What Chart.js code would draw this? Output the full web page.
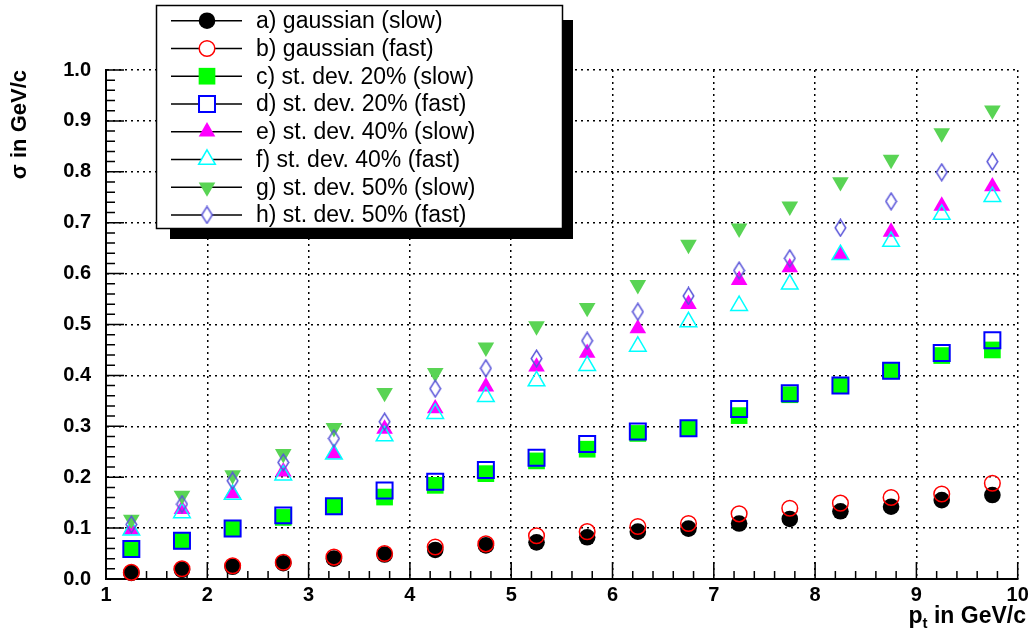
<!DOCTYPE html>
<html>
<head>
<meta charset="utf-8">
<script src="https://cdn.jsdelivr.net/npm/chart.js@4/dist/chart.umd.min.js"></script>
<style>
  html, body { margin: 0; padding: 0; background: #fff; }
  #wrap { width: 1031px; height: 635px; }
</style>
</head>
<body>
<div id="wrap"><canvas id="myChart" width="1031" height="635"></canvas></div>
<script>
// --- DATA ---
const pt = [1.25, 1.75, 2.25, 2.75, 3.25, 3.75, 4.25, 4.75, 5.25, 5.75, 6.25, 6.75, 7.25, 7.75, 8.25, 8.75, 9.25, 9.75];

const gaussSlow = [0.012, 0.018, 0.024, 0.031, 0.040, 0.048, 0.057, 0.066, 0.072, 0.082, 0.093, 0.099, 0.109, 0.118, 0.133, 0.142, 0.155, 0.165];
const gaussFast = [0.013, 0.020, 0.026, 0.033, 0.043, 0.050, 0.063, 0.069, 0.085, 0.093, 0.103, 0.109, 0.128, 0.139, 0.149, 0.160, 0.167, 0.188];
const sd20Slow  = [0.059, 0.075, 0.099, 0.121, 0.142, 0.161, 0.184, 0.207, 0.232, 0.255, 0.286, 0.296, 0.321, 0.362, 0.380, 0.409, 0.439, 0.450];
const sd20Fast  = [0.059, 0.075, 0.099, 0.125, 0.143, 0.174, 0.191, 0.214, 0.238, 0.265, 0.290, 0.296, 0.334, 0.365, 0.380, 0.409, 0.444, 0.469];
const sd40Slow  = [0.097, 0.137, 0.168, 0.211, 0.246, 0.295, 0.335, 0.378, 0.417, 0.444, 0.492, 0.540, 0.587, 0.612, 0.636, 0.682, 0.733, 0.771];
const sd40Fast  = [0.096, 0.130, 0.166, 0.204, 0.245, 0.281, 0.325, 0.358, 0.389, 0.419, 0.457, 0.505, 0.537, 0.579, 0.637, 0.663, 0.716, 0.751];
const sd50Slow  = [0.117, 0.164, 0.204, 0.246, 0.297, 0.366, 0.405, 0.455, 0.497, 0.533, 0.578, 0.657, 0.689, 0.732, 0.780, 0.824, 0.876, 0.921];
const sd50Fast  = [0.107, 0.147, 0.193, 0.229, 0.276, 0.309, 0.374, 0.414, 0.433, 0.468, 0.525, 0.556, 0.606, 0.630, 0.690, 0.742, 0.799, 0.820];

const seriesLabels = [
    'a) gaussian (slow)', 'b) gaussian (fast)',
    'c) st. dev. 20% (slow)', 'd) st. dev. 20% (fast)',
    'e) st. dev. 40% (slow)', 'f) st. dev. 40% (fast)',
    'g) st. dev. 50% (slow)', 'h) st. dev. 50% (fast)'
];

const xTicks = [1, 2, 3, 4, 5, 6, 7, 8, 9, 10];
const yTicks = [0.0, 0.1, 0.2, 0.3, 0.4, 0.5, 0.6, 0.7, 0.8, 0.9, 1.0];

// --- MARKERS (ROOT look) ---
function diamond(color, fill) {
    const c = document.createElement('canvas');
    c.width = 13; c.height = 19;
    const g = c.getContext('2d');
    g.beginPath();
    g.moveTo(6.5, 1.2); g.lineTo(11.8, 9.5); g.lineTo(6.5, 17.8); g.lineTo(1.2, 9.5);
    g.closePath();
    if (fill) { g.fillStyle = fill; g.fill(); }
    g.strokeStyle = color; g.lineWidth = 1.5; g.stroke();
    return c;
}

const NONE = 'rgba(0,0,0,0)';
const series = [gaussSlow, gaussFast, sd20Slow, sd20Fast, sd40Slow, sd40Fast, sd50Slow, sd50Fast];
const styles = [
    { style: 'circle',   r: 8.3,  rot: 0,   fill: '#000000', stroke: '#000000', bw: 0 },
    { style: 'circle',   r: 7.8,  rot: 0,   fill: NONE,      stroke: '#ff0000', bw: 1.5 },
    { style: 'rect',     r: 11.8, rot: 0,   fill: '#00ff00', stroke: '#00ff00', bw: 0 },
    { style: 'rect',     r: 11.3, rot: 0,   fill: NONE,      stroke: '#0000ff', bw: 2 },
    { style: 'triangle', r: 9.6,  rot: 0,   fill: '#ff00ff', stroke: '#ff00ff', bw: 0 },
    { style: 'triangle', r: 9.6,  rot: 0,   fill: NONE,      stroke: '#00ffff', bw: 1.5 },
    { style: 'triangle', r: 9.6,  rot: 180, fill: '#59d454', stroke: '#59d454', bw: 0 },
    { style: diamond('#5954d9'), legend: diamond('#5954d9', '#ffffff'), r: 9, rot: 0, fill: NONE, stroke: '#5954d9', bw: 1.5 }
];

const FONT = '"Liberation Sans", Arial, Helvetica, sans-serif';

// --- DECORATIONS: inside ticks, x title, legend ---
const rootDecor = {
    id: 'rootDecor',
    beforeDatasetsDraw(chart) {
        const ctx = chart.ctx;
        const xs = chart.scales.x, ys = chart.scales.y;
        const a = chart.chartArea;
        ctx.save();
        ctx.strokeStyle = '#000';
        ctx.lineWidth = 1.5;
        ctx.beginPath();
        for (let i = 0; i < xTicks.length; i++) {
            const px = xs.getPixelForValue(xTicks[i]);
            ctx.moveTo(px, a.bottom); ctx.lineTo(px, a.bottom - 17);
            if (i < xTicks.length - 1) {
                const step = (xTicks[i + 1] - xTicks[i]) / 5;
                for (let k = 1; k < 5; k++) {
                    const mx = xs.getPixelForValue(xTicks[i] + k * step);
                    ctx.moveTo(mx, a.bottom); ctx.lineTo(mx, a.bottom - 8);
                }
            }
        }
        for (let i = 0; i < yTicks.length; i++) {
            const py = ys.getPixelForValue(yTicks[i]);
            ctx.moveTo(a.left, py); ctx.lineTo(a.left + 18, py);
            if (i < yTicks.length - 1) {
                const step = (yTicks[i + 1] - yTicks[i]) / 5;
                for (let k = 1; k < 5; k++) {
                    const my = ys.getPixelForValue(yTicks[i] + k * step);
                    ctx.moveTo(a.left, my); ctx.lineTo(a.left + 9, my);
                }
            }
        }
        ctx.stroke();
        ctx.restore();
    },
    afterDraw(chart) {
        const ctx = chart.ctx;
        ctx.save();

        // x title with subscript
        ctx.fillStyle = '#000';
        ctx.textBaseline = 'alphabetic';
        ctx.font = 'bold 23px ' + FONT;
        const tail = ' in GeV/c';
        const wTail = ctx.measureText(tail).width;
        const wP = ctx.measureText('p').width;
        ctx.font = 'bold 15px ' + FONT;
        const wSub = ctx.measureText('t').width;
        const x0 = 1026 - wTail - wSub - wP;
        ctx.fillText('t', x0 + wP, 628);
        ctx.font = 'bold 23px ' + FONT;
        ctx.fillText('p', x0, 623);
        ctx.fillText(tail, x0 + wP + wSub, 623);

        // legend box with shadow
        ctx.fillStyle = '#000';
        ctx.fillRect(170, 20, 403, 219);
        ctx.fillStyle = '#fff';
        ctx.fillRect(156, 5, 407, 224);
        ctx.strokeStyle = '#000';
        ctx.lineWidth = 1.5;
        ctx.strokeRect(156.5, 5.5, 406, 223);

        const draw = Chart.helpers.drawPoint;
        chart.data.datasets.forEach((ds, i) => {
            const st = styles[i];
            const y = 20.7 + i * 27.75;
            ctx.strokeStyle = '#000';
            ctx.lineWidth = 1.5;
            ctx.beginPath();
            ctx.moveTo(171, y); ctx.lineTo(242, y);
            ctx.stroke();
            if (st.fill === NONE) {
                ctx.fillStyle = '#fff';
                draw(ctx, { pointStyle: st.legend || st.style, rotation: st.rot, radius: st.r, borderWidth: 0 }, 207, y);
            }
            if (!st.legend) {
                ctx.fillStyle = st.fill;
                ctx.strokeStyle = st.stroke;
                ctx.lineWidth = st.bw;
                draw(ctx, { pointStyle: st.style, rotation: st.rot, radius: st.r, borderWidth: st.bw }, 207, y);
            }
            ctx.fillStyle = '#000';
            ctx.font = '23px ' + FONT;
            ctx.textBaseline = 'middle';
            ctx.fillText(ds.label, 256, y + 1);
        });
        ctx.restore();
    }
};

// --- CHART ---
const ctx = document.getElementById('myChart').getContext('2d');
const myChart = new Chart(ctx, {
    type: 'scatter',
    data: {
        datasets: series.map((vals, i) => ({
            label: seriesLabels[i],
            data: pt.map((x, k) => ({ x: x, y: vals[k] })),
            showLine: false,
            pointStyle: styles[i].style,
            pointRadius: styles[i].r,
            pointRotation: styles[i].rot,
            pointBackgroundColor: styles[i].fill,
            pointBorderColor: styles[i].stroke,
            pointBorderWidth: styles[i].bw,
            order: series.length - i,
            clip: false
        }))
    },
    options: {
        responsive: false,
        animation: false,
        devicePixelRatio: 1,
        events: [],
        layout: { padding: { left: 0, right: 10, top: 70, bottom: 0 } },
        plugins: { legend: { display: false }, tooltip: { enabled: false } },
        scales: {
            x: {
                type: 'linear', min: 1, max: 10,
                afterBuildTicks: s => { s.ticks = xTicks.map(v => ({ value: v })); },
                afterFit: s => { s.height = 56; s.paddingLeft = 0; s.paddingRight = 0; },
                grid: { color: '#000', lineWidth: 1.5, drawTicks: false },
                border: { color: '#000', width: 2, dash: [2, 4] },
                ticks: {
                    color: '#000', padding: 4, maxRotation: 0, autoSkip: false,
                    font: { family: FONT, size: 20, weight: 'bold' },
                    callback: v => String(v)
                }
            },
            y: {
                type: 'linear', min: 0, max: 1,
                afterBuildTicks: s => { s.ticks = yTicks.map(v => ({ value: v })); },
                afterFit: s => { s.width = 106; s.paddingTop = 0; s.paddingBottom = 0; },
                grid: { color: '#000', lineWidth: 1.5, drawTicks: false },
                border: { color: '#000', width: 2, dash: [2, 4] },
                ticks: {
                    color: '#000', padding: 15, autoSkip: false,
                    font: { family: FONT, size: 20, weight: 'bold' },
                    callback: v => v.toFixed(1)
                },
                title: {
                    display: true, text: 'σ in GeV/c', align: 'end', color: '#000',
                    font: { family: FONT, size: 22, weight: 'bold' },
                    padding: { top: 7, bottom: 0 }
                }
            }
        }
    },
    plugins: [rootDecor]
});
</script>
</body>
</html>
